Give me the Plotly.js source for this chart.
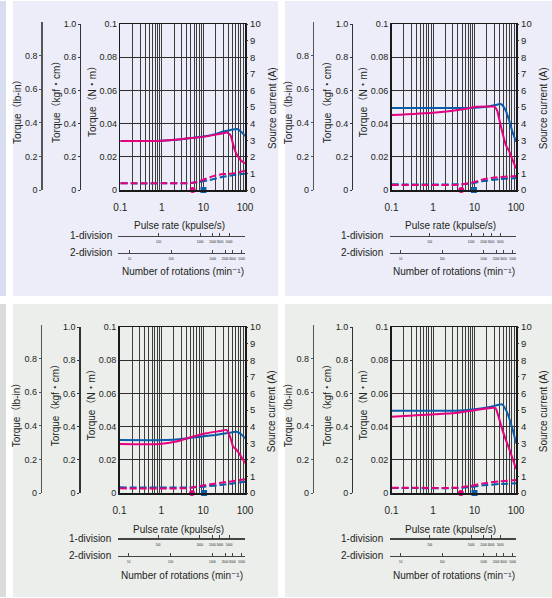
<!DOCTYPE html>
<html><head><meta charset="utf-8">
<script src="https://cdn.plot.ly/plotly-3.0.1.min.js"></script>
<style>html,body{margin:0;padding:0;background:#fff}#chart{width:552px;height:598px}</style>
</head><body><div id="chart"></div>
<script>
// ---------------- DATA ----------------
// x: pulse rate (kpulse/s); torque in N·m; source current in A
const nmTickVals = [0, 0.02, 0.04, 0.06, 0.08, 0.1];
const nmTickText = ['0', '0.02', '0.04', '0.06', '0.08', '0.1'];
const currentTickVals = [0, 1, 2, 3, 4, 5, 6, 7, 8, 9, 10];
const kgfTickVals = [0, 0.2, 0.4, 0.6, 0.8, 1.0];
const kgfTickText = ['0', '0.2', '0.4', '0.6', '0.8', '1.0'];
const lbTickVals = [0, 0.2, 0.4, 0.6, 0.8];
const lbTickText = ['0', '0.2', '0.4', '0.6', '0.8'];
const div1Ticks = [100, 1000, 2000, 3000, 5000];
const div2Ticks = [10, 100, 1000, 2000, 3000, 5000];

// Panel A (top-left)
const aBlueTorqueX = [0.1, 0.8, 2, 5, 10, 20, 30, 45, 64, 80, 100];
const aBlueTorqueY = [0.0295, 0.0295, 0.0302, 0.0313, 0.0322, 0.0338, 0.0352, 0.0362, 0.0367, 0.0352, 0.0325];
const aMagTorqueX = [0.1, 0.8, 2, 5, 10, 20, 30, 37, 45, 50, 57, 68, 80, 100];
const aMagTorqueY = [0.0295, 0.0295, 0.0302, 0.0313, 0.032, 0.0334, 0.0342, 0.0346, 0.0328, 0.029, 0.024, 0.020, 0.0178, 0.016];
const aBlueCurrentX = [0.1, 1, 5, 8, 14, 30, 60, 100];
const aBlueCurrentY = [0.4, 0.4, 0.42, 0.48, 0.6, 0.8, 0.92, 0.98];
const aMagCurrentX = [0.1, 1, 4, 6, 8.3, 14, 20, 30, 45, 70, 100];
const aMagCurrentY = [0.4, 0.4, 0.41, 0.45, 0.55, 0.76, 0.88, 0.96, 0.98, 1.06, 1.16];
const aMarkerX = [5.5, 10];

// Panel B (top-right)
const bBlueTorqueX = [0.1, 1, 5, 10, 20, 30, 43, 55, 68, 82, 100];
const bBlueTorqueY = [0.0494, 0.0494, 0.0494, 0.0496, 0.0502, 0.051, 0.0518, 0.0485, 0.0422, 0.0351, 0.0291];
const bMagTorqueX = [0.1, 1, 5, 11, 20, 30, 35, 40, 47.6, 57, 68, 83, 100];
const bMagTorqueY = [0.0452, 0.0466, 0.0485, 0.0501, 0.0503, 0.0502, 0.048, 0.042, 0.034, 0.027, 0.0235, 0.018, 0.013];
const bBlueCurrentX = [0.1, 3, 6, 10, 16, 40, 100];
const bBlueCurrentY = [0.34, 0.34, 0.36, 0.42, 0.54, 0.65, 0.72];
const bMagCurrentX = [0.1, 3, 5, 10, 16, 30, 100];
const bMagCurrentY = [0.3, 0.3, 0.34, 0.48, 0.64, 0.75, 0.84];
const bMarkerX = [4.8, 9.7];

// Panel C (bottom-left)
const cBlueTorqueX = [0.1, 1.3, 3, 8.5, 20, 36, 63, 80, 100];
const cBlueTorqueY = [0.0319, 0.0319, 0.0325, 0.0339, 0.035, 0.036, 0.0369, 0.0355, 0.033];
const cMagTorqueX = [0.1, 0.9, 2.3, 5.8, 12, 25, 36, 44, 52, 63, 76, 100];
const cMagTorqueY = [0.0295, 0.0295, 0.031, 0.034, 0.036, 0.0373, 0.038, 0.034, 0.028, 0.026, 0.023, 0.018];
const cBlueCurrentX = [0.1, 5, 10, 30, 60, 100];
const cBlueCurrentY = [0.34, 0.34, 0.38, 0.5, 0.6, 0.68];
const cMagCurrentX = [0.1, 5, 8.3, 27, 60, 100];
const cMagCurrentY = [0.28, 0.3, 0.42, 0.62, 0.74, 0.83];
const cMarkerX = [5.4, 10.5];

// Panel D (bottom-right)
const dBlueTorqueX = [0.1, 3.5, 10, 25, 46, 60, 75, 90, 100];
const dBlueTorqueY = [0.0496, 0.0496, 0.0505, 0.052, 0.0534, 0.049, 0.042, 0.035, 0.030];
const dMagTorqueX = [0.1, 3.5, 10, 27, 32, 38, 47, 57, 70, 85, 100];
const dMagTorqueY = [0.046, 0.0482, 0.0498, 0.0514, 0.0512, 0.046, 0.038, 0.032, 0.026, 0.02, 0.0145];
const dBlueCurrentX = [0.1, 4, 8, 16, 40, 100];
const dBlueCurrentY = [0.3, 0.3, 0.36, 0.46, 0.54, 0.58];
const dMagCurrentX = [0.1, 4, 8, 16, 40, 100];
const dMagCurrentY = [0.32, 0.32, 0.42, 0.58, 0.7, 0.78];
const dMarkerX = [4.7, 10];

// ---------------- LAYOUT HELPERS ----------------
const W = 552, H = 598;
const fx = p => p / W, fy = p => 1 - p / H;
const BLUE = '#0b5cab', MAG = '#e4007f';
const FONT = 'Liberation Sans, Arial, DejaVu Sans, Noto Sans CJK JP, sans-serif';

const minorTicks = [];
[0.1, 1, 10].forEach(d => { for (let k = 1; k <= 9; k++) minorTicks.push(+(k * d).toPrecision(3)); });
minorTicks.push(100);
const minorText = minorTicks.map(v => (v === 0.1 ? '0.1' : v === 1 ? '1' : v === 10 ? '10' : v === 100 ? '100' : ' '));

const geo = [
  {l: 120.3, r: 245, t: 24, b: 190, kgf: 80, lb: 41.3, d1: 235.7, d2: 252.7},
  {l: 391.5, r: 516, t: 24, b: 190, kgf: 352, lb: 312.7, d1: 235.7, d2: 252.7},
  {l: 119.5, r: 245, t: 327, b: 493, kgf: 79.3, lb: 40.7, d1: 538.4, d2: 555.8},
  {l: 391.5, r: 516, t: 327, b: 493, kgf: 352, lb: 312.7, d1: 538.4, d2: 555.8}
];
const panelsData = [
  [aBlueTorqueX, aBlueTorqueY, aMagTorqueX, aMagTorqueY, aBlueCurrentX, aBlueCurrentY, aMagCurrentX, aMagCurrentY, aMarkerX],
  [bBlueTorqueX, bBlueTorqueY, bMagTorqueX, bMagTorqueY, bBlueCurrentX, bBlueCurrentY, bMagCurrentX, bMagCurrentY, bMarkerX],
  [cBlueTorqueX, cBlueTorqueY, cMagTorqueX, cMagTorqueY, cBlueCurrentX, cBlueCurrentY, cMagCurrentX, cMagCurrentY, cMarkerX],
  [dBlueTorqueX, dBlueTorqueY, dMagTorqueX, dMagTorqueY, dBlueCurrentX, dBlueCurrentY, dMagCurrentX, dMagCurrentY, dMarkerX]
];

const xn = n => n === 1 ? 'xaxis' : 'xaxis' + n;
const yn = n => n === 1 ? 'yaxis' : 'yaxis' + n;
const xr = n => n === 1 ? 'x' : 'x' + n;
const yr = n => n === 1 ? 'y' : 'y' + n;

const layout = {
  width: W, height: H,
  margin: {l: 0, r: 0, t: 0, b: 0},
  paper_bgcolor: '#ffffff', plot_bgcolor: 'rgba(0,0,0,0)',
  showlegend: false,
  font: {family: FONT, color: '#231f20', size: 10},
  shapes: [
    {type: 'rect', xref: 'paper', yref: 'paper', x0: fx(0), x1: fx(6), y0: fy(296), y1: fy(1), fillcolor: '#d9ddf0', line: {width: 0}, layer: 'below'},
    {type: 'rect', xref: 'paper', yref: 'paper', x0: fx(13), x1: fx(278), y0: fy(296), y1: fy(1), fillcolor: '#ecedf8', line: {width: 0}, layer: 'below'},
    {type: 'rect', xref: 'paper', yref: 'paper', x0: fx(285), x1: fx(552), y0: fy(296), y1: fy(1), fillcolor: '#ecedf8', line: {width: 0}, layer: 'below'},
    {type: 'rect', xref: 'paper', yref: 'paper', x0: fx(0), x1: fx(6), y0: fy(597), y1: fy(304), fillcolor: '#d9dcda', line: {width: 0}, layer: 'below'},
    {type: 'rect', xref: 'paper', yref: 'paper', x0: fx(13), x1: fx(278), y0: fy(597), y1: fy(304), fillcolor: '#eceeec', line: {width: 0}, layer: 'below'},
    {type: 'rect', xref: 'paper', yref: 'paper', x0: fx(285), x1: fx(552), y0: fy(597), y1: fy(304), fillcolor: '#eceeec', line: {width: 0}, layer: 'below'}
  ],
  annotations: []
};
const traces = [];

function ann(text, px, py, opts) {
  layout.annotations.push(Object.assign({
    text: text, xref: 'paper', yref: 'paper', x: fx(px), y: fy(py),
    showarrow: false, xanchor: 'center', yanchor: 'middle',
    font: {family: FONT, size: 10, color: '#231f20'}
  }, opts || {}));
}

geo.forEach((g, i) => {
  const xm = 3 * i + 1, ym = 4 * i + 1;
  const dx = g.l - 120.3, dy = g.t - 24;
  // main log x axis (pulse rate)
  layout[xn(xm)] = {
    type: 'log', domain: [fx(g.l), fx(g.r)], range: [-1, 2], anchor: yr(ym),
    tickmode: 'array', tickvals: minorTicks, ticktext: minorText, tickangle: 0,
    showgrid: true, gridcolor: '#3d3d3d', gridwidth: 1,
    showline: true, mirror: true, linecolor: '#1a1a1a', linewidth: 1.5,
    ticks: '', ticklabelstandoff: 7, tickfont: {size: 10}, zeroline: false
  };
  // 1-division rotation scale (min^-1 = kpulse/s × 120)
  layout[xn(xm + 1)] = {
    type: 'log', domain: [fx(g.l - 2), fx(g.r)], anchor: 'free', position: fy(g.d1),
    range: [Math.log10(0.1 * 120) - 2 / 41.6, Math.log10(100 * 120)],
    tickmode: 'array', tickvals: div1Ticks, tickangle: 0, ticks: 'inside', ticklen: 3, tickcolor: '#444', tickwidth: 1,
    showline: true, linecolor: '#444', linewidth: 1.5, showgrid: false, zeroline: false,
    tickfont: {size: 3}, ticklabelstandoff: 2
  };
  // 2-division rotation scale (min^-1 = kpulse/s × 60)
  layout[xn(xm + 2)] = {
    type: 'log', domain: [fx(g.l - 2), fx(g.r)], anchor: 'free', position: fy(g.d2),
    range: [Math.log10(0.1 * 60) - 2 / 41.6, Math.log10(100 * 60)],
    tickmode: 'array', tickvals: div2Ticks, tickangle: 0, ticks: 'inside', ticklen: 3, tickcolor: '#444', tickwidth: 1,
    showline: true, linecolor: '#444', linewidth: 1.5, showgrid: false, zeroline: false,
    tickfont: {size: 3}, ticklabelstandoff: 2
  };
  // N·m
  layout[yn(ym)] = {
    domain: [fy(g.b), fy(g.t)], range: [0, 0.1], anchor: xr(xm),
    tickmode: 'array', tickvals: nmTickVals, ticktext: nmTickText,
    showgrid: true, gridcolor: '#2e2e2e', gridwidth: 1,
    showline: true, mirror: true, linecolor: '#1a1a1a', linewidth: 1.5,
    ticks: '', zeroline: false, tickfont: {size: 9}
  };
  // current
  layout[yn(ym + 1)] = {
    overlaying: yr(ym), anchor: xr(xm), side: 'right', range: [0, 10],
    tickmode: 'array', tickvals: currentTickVals, ticks: 'outside', ticklen: 2, tickcolor: '#333',
    showline: true, linecolor: '#1a1a1a', linewidth: 1.2, showgrid: false, zeroline: false,
    tickfont: {size: 9.5}
  };
  // kgf·cm
  layout[yn(ym + 2)] = {
    domain: [fy(g.b), fy(g.t)], anchor: 'free', position: fx(g.kgf), side: 'left', range: [0, 1],
    tickmode: 'array', tickvals: kgfTickVals, ticktext: kgfTickText, ticks: 'outside', ticklen: 2, tickcolor: '#333',
    showline: true, linecolor: '#333', linewidth: 1.2, showgrid: false, zeroline: false,
    tickfont: {size: 9}
  };
  // lb-in
  layout[yn(ym + 3)] = {
    domain: [fy(g.b), fy(g.t - 2)], anchor: 'free', position: fx(g.lb), side: 'left', range: [0, 1.0],
    tickmode: 'array', tickvals: lbTickVals, ticktext: lbTickText, ticks: 'outside', ticklen: 2, tickcolor: '#555',
    showline: true, linecolor: '#555', linewidth: 1.2, showgrid: false, zeroline: false,
    tickfont: {size: 9}
  };

  const d = panelsData[i];
  // empty carrier traces so that each scale axis gets drawn
  traces.push({type: 'scatter', mode: 'lines', x: [], y: [], xaxis: xr(xm + 1), yaxis: yr(ym + 2), hoverinfo: 'skip'});
  traces.push({type: 'scatter', mode: 'lines', x: [], y: [], xaxis: xr(xm + 2), yaxis: yr(ym + 3), hoverinfo: 'skip'});

  traces.push({type: 'scatter', mode: 'lines', x: d[4], y: d[5], xaxis: xr(xm), yaxis: yr(ym + 1),
    line: {color: BLUE, width: 2, dash: '7px,3px', shape: 'spline', smoothing: 0.5}});
  traces.push({type: 'scatter', mode: 'lines', x: d[6], y: d[7], xaxis: xr(xm), yaxis: yr(ym + 1),
    line: {color: MAG, width: 2, dash: '7px,3px', shape: 'spline', smoothing: 0.5}});
  traces.push({type: 'scatter', mode: 'lines', x: d[0], y: d[1], xaxis: xr(xm), yaxis: yr(ym),
    line: {color: BLUE, width: 2, shape: 'spline', smoothing: 0.5}});
  traces.push({type: 'scatter', mode: 'lines', x: d[2], y: d[3], xaxis: xr(xm), yaxis: yr(ym),
    line: {color: MAG, width: 2, shape: 'spline', smoothing: 0.5}});
  traces.push({type: 'scatter', mode: 'markers', x: [d[8][0]], y: [0], xaxis: xr(xm), yaxis: yr(ym), cliponaxis: false,
    marker: {symbol: 'circle', size: 6, color: MAG}});
  traces.push({type: 'scatter', mode: 'markers', x: [d[8][1]], y: [0], xaxis: xr(xm), yaxis: yr(ym), cliponaxis: false,
    marker: {symbol: 'square', size: 6, color: BLUE}});

  // titles / labels
  ann('Torque（lb-in）', 17 + dx, 110 + dy, {textangle: -90});
  ann('Torque（kgf・cm）', 56 + dx, 100 + dy, {textangle: -90});
  ann('Torque（N・m）', 92.5 + dx, 99.5 + dy, {textangle: -90});
  ann('Source current (A)', 272 + dx, 108 + dy, {textangle: -90});
  ann('Pulse rate (kpulse/s)', 179.5 + dx, 226 + dy);
  ann('1-division', 114 + dx, 235.7 + dy, {xanchor: 'right'});
  ann('2-division', 114 + dx, 252.7 + dy, {xanchor: 'right'});
  ann('Number of rotations (min⁻¹)', 183 + dx, 272 + dy);
});

Plotly.newPlot('chart', traces, layout, {displayModeBar: false, staticPlot: true});
</script>
</body></html>
